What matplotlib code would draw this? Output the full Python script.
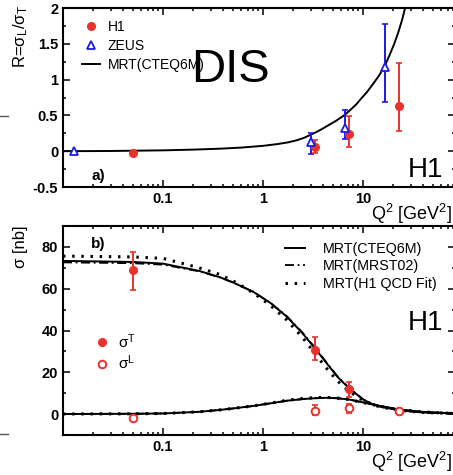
import numpy as np
import matplotlib
matplotlib.use('Agg')
import matplotlib.pyplot as plt
from matplotlib.lines import Line2D
from matplotlib.ticker import FixedLocator, NullFormatter, LogLocator, MultipleLocator

plt.rcParams['font.family'] = ['Liberation Sans', 'DejaVu Sans']
plt.rcParams['mathtext.default'] = 'regular'

RED = '#e8322b'
BLUE = '#1a1ae6'

# panel a) R = sigma_L / sigma_T
h1_q2 = [0.05, 3.3, 7.2, 22.9]
h1_r = [-0.03, 0.06, 0.24, 0.63]
h1_r_lo = [0.0, 0.09, 0.18, 0.35]
h1_r_hi = [0.0, 0.09, 0.25, 0.60]
zeus_q2 = [0.013, 3.0, 6.6, 16.6]
zeus_r = [0.0, 0.13, 0.33, 1.18]
zeus_r_lo = [0.0, 0.17, 0.16, 0.49]
zeus_r_hi = [0.0, 0.12, 0.25, 0.59]

mrt_r_q2 = [0.01, 0.03, 0.1, 0.2, 0.37, 0.6, 1.0, 1.4, 1.8, 2.2, 2.6, 3.0, 3.5, 4.0, 4.6, 5.3,
            6.0, 6.6, 7.5, 8.5, 9.5, 11, 12.6, 14.5, 16.6, 18.5, 20.5, 22.5, 24.5, 26, 28]
mrt_r = [0.0, 0.003, 0.012, 0.022, 0.035, 0.05, 0.075, 0.10, 0.125, 0.155, 0.19, 0.23, 0.275,
         0.32, 0.37, 0.42, 0.47, 0.51, 0.58, 0.65, 0.73, 0.83, 0.94, 1.06, 1.2, 1.35, 1.5, 1.66,
         1.83, 1.97, 2.15]

# panel b) sigma_T and sigma_L
sig_q2 = [0.05, 3.3, 7.2, 22.9]
sigT = [69.0, 30.6, 11.8, 1.6]
sigT_lo = [9.5, 4.8, 3.5, 0.5]
sigT_hi = [8.5, 6.1, 3.7, 0.5]
sigL = [-2.1, 1.6, 2.7, 1.5]
sigL_lo = [0.0, 2.1, 2.1, 0.5]
sigL_hi = [0.0, 2.7, 2.1, 0.5]

curve_q2 = [0.01, 0.05, 0.1, 0.23, 0.37, 0.5, 0.8, 1.2, 1.73, 2.5, 3.3, 4.3, 5.5, 7.2, 10, 12.6, 15, 23, 40, 83]
cteq_T = [73.3, 72.8, 72.0, 68.5, 65.5, 63.0, 58.5, 53.0, 46.6, 38.5, 31.5, 24.5, 18.0, 12.5, 7.0, 4.6, 3.5, 1.8, 0.8, 0.3]
mrst_T = [72.6, 72.2, 71.5, 68.3, 65.4, 63.0, 58.5, 53.0, 46.8, 38.8, 31.8, 24.8, 18.3, 12.7, 7.1, 4.7, 3.6, 1.8, 0.8, 0.3]
h1fit_T = [75.6, 75.2, 74.5, 70.0, 66.8, 63.8, 58.0, 51.8, 45.0, 36.5, 29.0, 22.0, 16.0, 11.0, 6.5, 4.4, 3.4, 1.8, 0.8, 0.3]
cteq_L = [0.05, 0.15, 0.3, 1.1, 2.0, 2.7, 3.9, 5.2, 6.4, 7.2, 7.6, 7.8, 7.6, 7.0, 5.6, 4.6, 3.8, 2.2, 1.0, 0.3]
mrst_L = [0.05, 0.15, 0.3, 1.1, 2.0, 2.7, 3.9, 5.2, 6.4, 7.2, 7.6, 7.8, 7.6, 7.0, 5.6, 4.6, 3.8, 2.2, 1.0, 0.3]
h1fit_L = [0.05, 0.15, 0.3, 1.1, 2.0, 2.7, 3.9, 5.3, 6.6, 7.5, 7.9, 8.0, 7.7, 7.0, 5.5, 4.5, 3.7, 2.1, 1.0, 0.3]

W, H = 453, 475
fig = plt.figure(figsize=(W / 100, H / 100), dpi=100)

def px_axes(left, top, right, bottom):
    return fig.add_axes([left / W, 1 - bottom / H, (right - left) / W, (bottom - top) / H])

def ax_frac(ax, xp, yp):
    # pixel position -> axes fraction
    b = ax.get_position()
    return (xp / W - b.x0) / b.width, ((1 - yp / H) - b.y0) / b.height

ax1 = px_axes(63, 8, 455, 187)
ax2 = px_axes(63, 226, 455, 435)

for ax in (ax1, ax2):
    ax.set_xscale('log')
    ax.set_xlim(0.01, 83)
    ax.xaxis.set_major_locator(FixedLocator([0.01, 0.1, 1, 10]))
    ax.xaxis.set_minor_locator(LogLocator(base=10, subs=np.arange(2, 10)))
    ax.xaxis.set_minor_formatter(NullFormatter())
    ax.tick_params(which='both', direction='in', top=True, right=True, width=1.1)
    ax.tick_params(which='major', length=5, labelsize=10.5)
    ax.tick_params(which='minor', length=2.5)
    ax.set_xticklabels(['', '0.1', '1', '10'], fontweight='bold')
    for sp in ax.spines.values():
        sp.set_linewidth(1.5)

# --- panel a
ax1.set_ylim(-0.5, 2)
ax1.set_yticks([-0.5, 0, 0.5, 1, 1.5, 2])
ax1.set_yticklabels(['-0.5', '0', '0.5', '1', '1.5', '2'], fontweight='bold')
ax1.yaxis.set_minor_locator(MultipleLocator(0.25))

ax1.plot(mrt_r_q2, mrt_r, color='black', lw=1.4)
ax1.errorbar(zeus_q2[1:], zeus_r[1:], yerr=[zeus_r_lo[1:], zeus_r_hi[1:]], fmt='none',
             ecolor=BLUE, elinewidth=1.4, capsize=2.5, capthick=1.2)
ax1.errorbar(h1_q2[1:], h1_r[1:], yerr=[h1_r_lo[1:], h1_r_hi[1:]], fmt='none',
             ecolor=RED, elinewidth=1.4, capsize=2.5, capthick=1.2)
l_h1, = ax1.plot(h1_q2, h1_r, 'o', color=RED, ms=5.5, label='H1')
l_zeus, = ax1.plot(zeus_q2, zeus_r, '^', mfc='white', mec=BLUE, mew=1.3, ms=5.5, label='ZEUS')
l_mrt = Line2D([], [], color='black', lw=1.4, label='MRT(CTEQ6M)')
ax1.legend(handles=[l_h1, l_zeus, l_mrt], loc='upper left', bbox_to_anchor=ax_frac(ax1, 76, 14),
           borderaxespad=0, frameon=False, fontsize=10, handlelength=1.3, labelspacing=0.38,
           handletextpad=0.6)

fig.text(21 / W, 1 - 5 / H, 'R=σ$_L$/σ$_T$', fontsize=12, rotation=90, ha='center', va='top')
ax1.text(*ax_frac(ax1, 91, 180), 'a)', transform=ax1.transAxes, fontsize=11, fontweight='bold',
         va='baseline')
# "DIS" overlaps the legend text, as in the original
ax1.text(*ax_frac(ax1, 230, 70), 'DIS', transform=ax1.transAxes, fontsize=34, ha='center',
         va='center')
ax1.text(*ax_frac(ax1, 443, 177), 'H1', transform=ax1.transAxes, fontsize=20, ha='right',
         va='baseline')
fig.text(452 / W, 1 - 214 / H, 'Q$^2$ [GeV$^2$]', fontsize=13, ha='right', va='center')

# --- panel b
ax2.set_ylim(-10, 90)
ax2.set_yticks([0, 20, 40, 60, 80])
ax2.set_yticklabels(['0', '20', '40', '60', '80'], fontweight='bold')
ax2.yaxis.set_minor_locator(MultipleLocator(10))

c1, = ax2.plot(curve_q2, cteq_T, color='black', lw=1.4, label='MRT(CTEQ6M)')
ax2.plot(curve_q2, cteq_L, color='black', lw=1.4)
c2, = ax2.plot(curve_q2, mrst_T, color='black', lw=1.3, ls=(0, (5, 2, 1, 2)), label='MRT(MRST02)')
ax2.plot(curve_q2, mrst_L, color='black', lw=1.3, ls=(0, (5, 2, 1, 2)))
c3, = ax2.plot(curve_q2, h1fit_T, color='black', lw=2.2, ls=(0, (0.8, 2.2)), label='MRT(H1 QCD Fit)')
ax2.plot(curve_q2, h1fit_L, color='black', lw=2.2, ls=(0, (0.8, 2.2)))

ax2.errorbar(sig_q2, sigT, yerr=[sigT_lo, sigT_hi], fmt='none', ecolor=RED,
             elinewidth=1.4, capsize=2.5, capthick=1.2)
ax2.errorbar(sig_q2[1:], sigL[1:], yerr=[sigL_lo[1:], sigL_hi[1:]], fmt='none', ecolor=RED,
             elinewidth=1.4, capsize=2.5, capthick=1.2)
p_t, = ax2.plot(sig_q2, sigT, 'o', color=RED, ms=5.5, label='σ$^T$')
p_l, = ax2.plot(sig_q2, sigL, 'o', mfc='white', mec=RED, mew=1.4, ms=5.5, label='σ$^L$')

leg = ax2.legend(handles=[c1, c2, c3], loc='upper right', bbox_to_anchor=ax_frac(ax2, 442, 236),
                 borderaxespad=0, frameon=False, fontsize=10.3, handlelength=1.4,
                 labelspacing=0.25, handletextpad=1.2)
ax2.add_artist(leg)
ax2.legend(handles=[p_t, p_l], loc='upper left', bbox_to_anchor=ax_frac(ax2, 89, 326),
           borderaxespad=0, frameon=False, fontsize=11, handlelength=0.9, labelspacing=0.2,
           handletextpad=0.6)

fig.text(21 / W, 1 - 225 / H, 'σ [nb]', fontsize=12, rotation=90, ha='center', va='top')
ax2.text(*ax_frac(ax2, 91, 248), 'b)', transform=ax2.transAxes, fontsize=11, fontweight='bold',
         va='baseline')
ax2.text(*ax_frac(ax2, 443, 330), 'H1', transform=ax2.transAxes, fontsize=20, ha='right',
         va='baseline')
fig.text(452 / W, 1 - 462 / H, 'Q$^2$ [GeV$^2$]', fontsize=13, ha='right', va='center')

# short stray strokes at the left edge of the scan
fig.add_artist(Line2D([0, 8 / W], [1 - 116 / H, 1 - 116 / H], color='#555555', lw=1))
fig.add_artist(Line2D([0, 8 / W], [1 - 434 / H, 1 - 434 / H], color='#555555', lw=1))

fig.savefig('out.png', dpi=100)
